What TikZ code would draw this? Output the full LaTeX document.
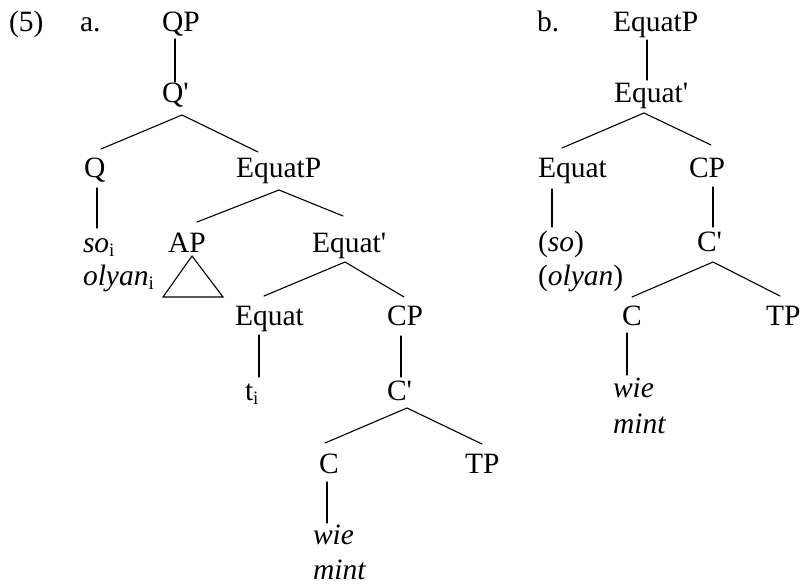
\documentclass[tikz,border=0pt]{standalone}
\usepackage{fontspec}
\setmainfont{Liberation Serif}
\newcommand\mysubi{\raisebox{-4bp}{\fontsize{19bp}{19bp}\selectfont i}}
\newcommand\myprime{\textquotesingle}
\tikzset{
  lab/.style={anchor=base west, inner sep=0pt, outer sep=0pt, font=\fontsize{29.5bp}{35bp}\selectfont},
  br/.style={line width=1.1bp, line cap=round},
}
\begin{document}
\begin{tikzpicture}[x=1bp,y=-1bp]
\useasboundingbox (0,0) rectangle (802,587);
% labels
\node[lab] (ex) at (9,32) {(5)};
\node[lab] (aA) at (80,32) {a.};
\node[lab] (bB) at (537,32) {b.};
% tree a
\node[lab] (qpA) at (162,32) {QP};
\node[lab] (qbarA) at (162,103) {Q\myprime};
\node[lab] (qA) at (84,178) {Q};
\node[lab] (equatpA) at (236,178) {EquatP};
\node[lab] (soA) at (83,252) {\textit{so}\mysubi};
\node[lab] (apA) at (168,252) {AP};
\node[lab] (equatbarA) at (312,252) {Equat\myprime};
\node[lab] (olyanA) at (83,285) {\textit{olyan}\mysubi};
\node[lab] (equatA) at (235,325) {Equat};
\node[lab] (cpA) at (387,325) {CP};
\node[lab] (tA) at (245,400) {t\mysubi};
\node[lab] (cbarA) at (387,400) {C\myprime};
\node[lab] (cA) at (319,473) {C};
\node[lab] (tpA) at (465,473) {TP};
\node[lab] (wieA) at (313,544) {\textit{wie}};
\node[lab] (mintA) at (313,579) {\textit{mint}};
\draw[br] ([shift={(13,7)}]qpA.base west) -- ([shift={(13,-21)}]qbarA.base west);
\draw[br] ([shift={(17,-29)}]qA.base west) -- ([shift={(20,12)}]qbarA.base west) -- ([shift={(22,-26)}]equatpA.base west);
\draw[br] ([shift={(13,10)}]qA.base west) -- ([shift={(14,-24)}]soA.base west);
\draw[br] ([shift={(29,-30)}]apA.base west) -- ([shift={(43,12)}]equatpA.base west) -- ([shift={(31,-36)}]equatbarA.base west);
\draw[br, line cap=butt] ([shift={(24,4)}]apA.base west) -- ([shift={(-5,45)}]apA.base west) -- ([shift={(55,45)}]apA.base west) -- cycle;
\draw[br] ([shift={(29,-29)}]equatA.base west) -- ([shift={(33,10)}]equatbarA.base west) -- ([shift={(17,-28)}]cpA.base west);
\draw[br] ([shift={(24,10)}]equatA.base west) -- ([shift={(14,-23)}]tA.base west);
\draw[br] ([shift={(14,11)}]cpA.base west) -- ([shift={(14,-23)}]cbarA.base west);
\draw[br] ([shift={(6,-30)}]cA.base west) -- ([shift={(20,8)}]cbarA.base west) -- ([shift={(17,-29)}]tpA.base west);
\draw[br] ([shift={(8,9)}]cA.base west) -- ([shift={(14,-21)}]wieA.base west);
% tree b
\node[lab] (equatpB) at (613,32) {EquatP};
\node[lab] (equatbarB) at (614,103) {Equat\myprime};
\node[lab] (equatB) at (538,178) {Equat};
\node[lab] (cpB) at (689,178) {CP};
\node[lab] (soB) at (538,251) {(\textit{so})};
\node[lab] (olyanB) at (538,285) {(\textit{olyan})};
\node[lab] (cbarB) at (697,251) {C\myprime};
\node[lab] (cB) at (622,325) {C};
\node[lab] (tpB) at (766,325) {TP};
\node[lab] (wieB) at (613,397) {\textit{wie}};
\node[lab] (mintB) at (613,433) {\textit{mint}};
\draw[br] ([shift={(34,8)}]equatpB.base west) -- ([shift={(33,-23)}]equatbarB.base west);
\draw[br] ([shift={(24,-30)}]equatB.base west) -- ([shift={(30,10)}]equatbarB.base west) -- ([shift={(22,-33)}]cpB.base west);
\draw[br] ([shift={(14,11)}]equatB.base west) -- ([shift={(14,-24)}]soB.base west);
\draw[br] ([shift={(24,9)}]cpB.base west) -- ([shift={(16,-24)}]cbarB.base west);
\draw[br] ([shift={(10,-28)}]cB.base west) -- ([shift={(16,11)}]cbarB.base west) -- ([shift={(14,-29)}]tpB.base west);
\draw[br] ([shift={(5,8)}]cB.base west) -- ([shift={(14,-22)}]wieB.base west);
\end{tikzpicture}
\end{document}
